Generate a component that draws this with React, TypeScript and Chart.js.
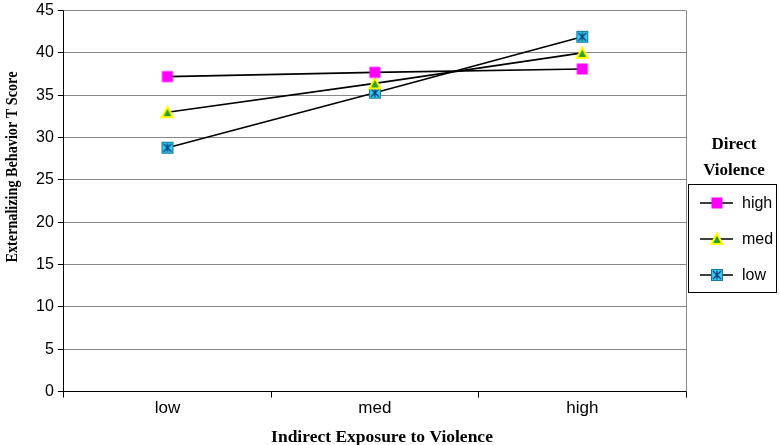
import React, { useEffect, useRef } from "react";
import { Chart, registerables } from "chart.js";

Chart.register(...registerables);

const categories = ["low", "med", "high"];
const seriesNames = ["high", "med", "low"];
const highValues = [37.2, 37.7, 38.1];
const medValues = [33.0, 36.4, 40.0];
const lowValues = [28.8, 35.3, 41.9];
const yTicks = [0, 5, 10, 15, 20, 25, 30, 35, 40, 45];
const legendTitle = ["Direct", "Violence"];
const xTitle = "Indirect Exposure to Violence";
const yTitle = "Externalizing Behavior T Score";

function makeMarker(kind: string): HTMLCanvasElement {
  const c = document.createElement("canvas");
  c.width = 14;
  c.height = 14;
  const g = c.getContext("2d")!;
  if (kind === "square") {
    g.fillStyle = "#FF00FF";
    g.fillRect(1.5, 1.5, 11, 11);
  } else if (kind === "triangle") {
    g.beginPath();
    g.moveTo(7, 1.5);
    g.lineTo(12.5, 12);
    g.lineTo(1.5, 12);
    g.closePath();
    g.fillStyle = "#2E9E2E";
    g.fill();
    g.strokeStyle = "#FFFF00";
    g.lineWidth = 2;
    g.stroke();
  } else {
    g.fillStyle = "#33CCEE";
    g.fillRect(1.5, 1.5, 11, 11);
    g.strokeStyle = "#1A7A9A";
    g.lineWidth = 1;
    g.strokeRect(1.5, 1.5, 11, 11);
    g.beginPath();
    g.moveTo(3, 3);
    g.lineTo(11, 11);
    g.moveTo(11, 3);
    g.lineTo(3, 11);
    g.moveTo(7, 2.5);
    g.lineTo(7, 11.5);
    g.strokeStyle = "#0A3A7A";
    g.lineWidth = 1.2;
    g.stroke();
  }
  return c;
}

export default function App() {
  const ref = useRef<HTMLCanvasElement | null>(null);
  useEffect(() => {
    if (!ref.current) return;
    const markers = [makeMarker("square"), makeMarker("triangle"), makeMarker("star")];
    const values = [highValues, medValues, lowValues];

    const customPlugin = {
      id: "custom",
      afterDraw(chart: any) {
        const ctx = chart.ctx;
        const a = chart.chartArea;
        ctx.save();
        ctx.strokeStyle = "#888888";
        ctx.lineWidth = 1;
        ctx.beginPath();
        ctx.moveTo(Math.round(a.right) + 0.5, a.top);
        ctx.lineTo(Math.round(a.right) + 0.5, a.bottom);
        ctx.stroke();
        ctx.fillStyle = "#000";
        ctx.textAlign = "center";
        ctx.textBaseline = "middle";
        ctx.font = "bold 17.5px 'Liberation Serif', serif";
        ctx.fillText(xTitle, 382, 437);
        ctx.save();
        ctx.translate(13, 167);
        ctx.rotate(-Math.PI / 2);
        ctx.scale(0.86, 1);
        ctx.font = "bold 16.5px 'Liberation Serif', serif";
        ctx.fillText(yTitle, 0, 0);
        ctx.restore();
        ctx.font = "bold 17px 'Liberation Serif', serif";
        ctx.fillText(legendTitle[0], 734, 145);
        ctx.fillText(legendTitle[1], 734, 171);
        ctx.strokeStyle = "#000";
        ctx.lineWidth = 1;
        ctx.strokeRect(688.5, 184.5, 88, 108);
        ctx.font = "16px 'Liberation Sans', Arial, sans-serif";
        ctx.textAlign = "left";
        seriesNames.forEach((name, i) => {
          const y = 203 + i * 36;
          ctx.beginPath();
          ctx.moveTo(700, y);
          ctx.lineTo(733, y);
          ctx.lineWidth = 1.5;
          ctx.stroke();
          ctx.drawImage(markers[i], 717 - 7, y - 7);
          ctx.fillText(name, 742, y + 1);
        });
        ctx.restore();
      },
    };

    const chart = new Chart(ref.current, {
      type: "line",
      data: {
        labels: categories,
        datasets: seriesNames.map((name, i) => ({
          label: name,
          data: values[i],
          borderColor: "#000000",
          borderWidth: 1.6,
          pointStyle: markers[i] as any,
          pointRadius: 7,
          tension: 0,
          fill: false,
        })),
      },
      options: {
        animation: false,
        responsive: false,
        layout: { padding: { top: 0, right: 94, left: 32, bottom: 25 } },
        plugins: { legend: { display: false }, tooltip: { enabled: false } },
        scales: {
          x: {
            offset: true,
            grid: {
              offset: true,
              drawOnChartArea: false,
              tickLength: 6,
              tickColor: "#000",
            },
            border: { color: "#000", width: 1 },
            ticks: {
              color: "#000",
              font: { family: "'Liberation Sans', Arial, sans-serif", size: 17 },
              padding: 1,
            },
          },
          y: {
            min: 0,
            max: 45,
            afterBuildTicks: (axis: any) => {
              axis.ticks = yTicks.map((v) => ({ value: v }));
            },
            grid: {
              color: "#888888",
              tickLength: 6,
              tickColor: "#000",
            },
            border: { color: "#000", width: 1 },
            ticks: {
              color: "#000",
              font: { family: "'Liberation Sans', Arial, sans-serif", size: 16, lineHeight: 0.82 },
              padding: 4,
            },
          },
        },
      },
      plugins: [customPlugin],
    });
    return () => chart.destroy();
  }, []);
  return (
    <div style={{ position: "fixed", left: 0, top: 0, width: 780, height: 445, background: "#fff" }}>
      <canvas ref={ref} width={780} height={445} />
    </div>
  );
}
